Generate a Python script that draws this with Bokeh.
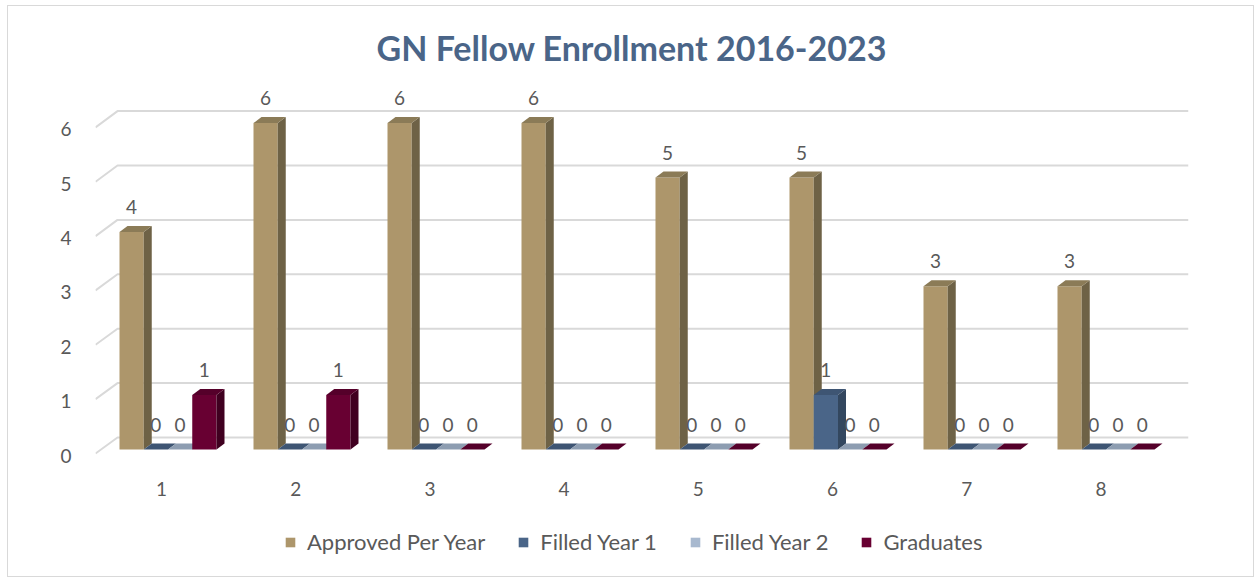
from bokeh.plotting import figure
from bokeh.models import (Range1d, LinearAxis, FixedTicker, Legend, LegendItem,
                          ColumnDataSource, Title)
from bokeh.core.properties import value
from bokeh.embed import file_html
from bokeh.resources import INLINE

# ---------------- data ----------------
categories = [1, 2, 3, 4, 5, 6, 7, 8]
series_names = ["Approved Per Year", "Filled Year 1", "Filled Year 2", "Graduates"]
approved = [4, 6, 6, 6, 5, 5, 3, 3]
filled_year_1 = [0, 0, 0, 0, 0, 1, 0, 0]
filled_year_2 = [0, 0, 0, 0, 0, 0, 0, 0]
graduates = [1, 1, 0, 0, 0, 0, 0, 0]
y_ticks = [0, 1, 2, 3, 4, 5, 6]
title_text = "GN Fellow Enrollment 2016-2023"

series_values = [approved, filled_year_1, filled_year_2, graduates]
front_colors = ["#ad966b", "#4a6588", "#a8b9cf", "#680032"]
side_colors = ["#6e6246", "#33475f", "#7d8a9b", "#400020"]
top_colors = ["#8b7b57", "#3e5573", "#8d9db1", "#55002a"]

FONT = "Lato"
TXT = "#595959"

# ---------------- geometry (image pixels -> data units) ----------------
PX_X = 134.0      # pixels per category on bar plane
PX_Y = 54.4       # pixels per unit value on bar plane
F_LEFT, F_RIGHT, F_TOP, F_BOTTOM = 95, 1188, 70, 570   # frame in image px
FRAME_W = F_RIGHT - F_LEFT
FRAME_H = F_BOTTOM - F_TOP
x0 = 1 - (167.5 - F_LEFT) / PX_X
y0 = (449 - F_BOTTOM) / PX_Y
bar_w = 24.25 / PX_X
ddx = 8 / PX_X
ddy = 6 / PX_Y

OX, OY = 8, 6            # figure origin on the page (margin + border)
FIG_W, FIG_H = 1247, 572

p = figure(width=FIG_W, height=FIG_H, output_backend="svg", toolbar_location=None,
           x_range=Range1d(x0, x0 + FRAME_W / PX_X),
           y_range=Range1d(y0, y0 + FRAME_H / PX_Y),
           x_axis_type=None, y_axis_type=None,
           min_border_left=F_LEFT - OX, min_border_right=FIG_W - (F_RIGHT - OX),
           min_border_top=F_TOP - OY, min_border_bottom=FIG_H - (F_BOTTOM - OY),
           styles={"margin-left": "7px", "margin-top": "5px",
                   "border": "1px solid #d9d9d9"})
p.outline_line_color = None
p.xgrid.visible = False
p.ygrid.visible = False
p.background_fill_color = "white"
p.border_fill_color = "white"

# label ranges for axes (front plane)
LBL_PX_X = 134.2
lx0 = 1 + (F_LEFT - 161) / LBL_PX_X
p.extra_x_ranges = {"lab": Range1d(lx0, lx0 + FRAME_W / LBL_PX_X)}
AX_PX_Y = 54.35
ay0 = (455 - F_BOTTOM) / AX_PX_Y
p.extra_y_ranges = {"ax": Range1d(ay0, ay0 + FRAME_H / AX_PX_Y)}

# ---------------- gridlines (front diagonal + back wall) ----------------
gx_front = x0
gx_back = 1 - (167.5 - 117) / PX_X
gx_end = x0 + FRAME_W / PX_X
gxs, gys = [], []
for v in y_ticks:
    yf = (449 - 453 + AX_PX_Y * v) / PX_Y
    yb = v + 12 / PX_Y
    gxs.append([gx_front, gx_back, gx_end])
    gys.append([yf, yb, yb])
p.multi_line(gxs, gys, line_color="#d9d9d9", line_width=2)

# ---------------- 3D bars ----------------
legend_items = []
lab_x, lab_y, lab_t = [], [], []
for s, vals in enumerate(series_values):
    lefts = [c - 2 * bar_w + s * bar_w for c in categories]
    rights = [l + bar_w for l in lefts]
    src = ColumnDataSource(dict(left=lefts, right=rights, top=vals,
                                bottom=[0] * len(vals)))
    r = p.quad(left="left", right="right", top="top", bottom="bottom", source=src,
               fill_color=front_colors[s], line_color=None)
    legend_items.append(LegendItem(label=series_names[s], renderers=[r]))
    sx, sy, tx, ty = [], [], [], []
    for l, rt, v in zip(lefts, rights, vals):
        if v > 0:
            sx.append([rt, rt + ddx, rt + ddx, rt])
            sy.append([0, ddy, v + ddy, v])
        tx.append([l, l + ddx, rt + ddx, rt])
        ty.append([v, v + ddy, v + ddy, v])
        lab_x.append((l + rt) / 2)
        lab_y.append(v + 25 / PX_Y)
        lab_t.append(str(v))
    if sx:
        p.patches(sx, sy, fill_color=side_colors[s], line_color=None)
    p.patches(tx, ty, fill_color=top_colors[s], line_color=None)

p.text(x=lab_x, y=lab_y, text=lab_t, text_font=value(FONT), text_font_size="19px",
       text_color=TXT, text_align="center", text_baseline="middle")

# ---------------- category labels (front plane, via "lab" scale) ----------------
p.text(x=categories, y=[(455 - 488) / AX_PX_Y] * len(categories),
       text=[str(c) for c in categories], x_range_name="lab", y_range_name="ax",
       text_font=value(FONT), text_font_size="19px", text_color=TXT,
       text_align="center", text_baseline="middle")

# ---------------- value axis ----------------
yax = LinearAxis(y_range_name="ax", ticker=FixedTicker(ticks=y_ticks))
yax.axis_line_color = None
yax.major_tick_line_color = None
yax.minor_tick_line_color = None
yax.major_tick_out = 0
yax.major_tick_in = 0
yax.major_label_standoff = 24
yax.major_label_text_font = FONT
yax.major_label_text_font_size = "19px"
yax.major_label_text_color = TXT
p.add_layout(yax, "left")

# ---------------- legend ----------------
legend = Legend(items=legend_items, orientation="horizontal",
                location=(289 - 5 - F_LEFT, F_BOTTOM - 555),
                border_line_color=None, background_fill_alpha=0,
                label_text_font=FONT, label_text_font_size="22px",
                label_text_color=TXT, glyph_width=12, glyph_height=12,
                label_standoff=11, spacing=32, margin=0, padding=5)
p.add_layout(legend, "center")

p.title = Title(text=title_text, align="left", offset=281, text_font=FONT,
                text_font_size="34px", text_font_style="bold",
                text_color="#4a6588", standoff=6)

open("out.html", "w").write(file_html(p, INLINE))
